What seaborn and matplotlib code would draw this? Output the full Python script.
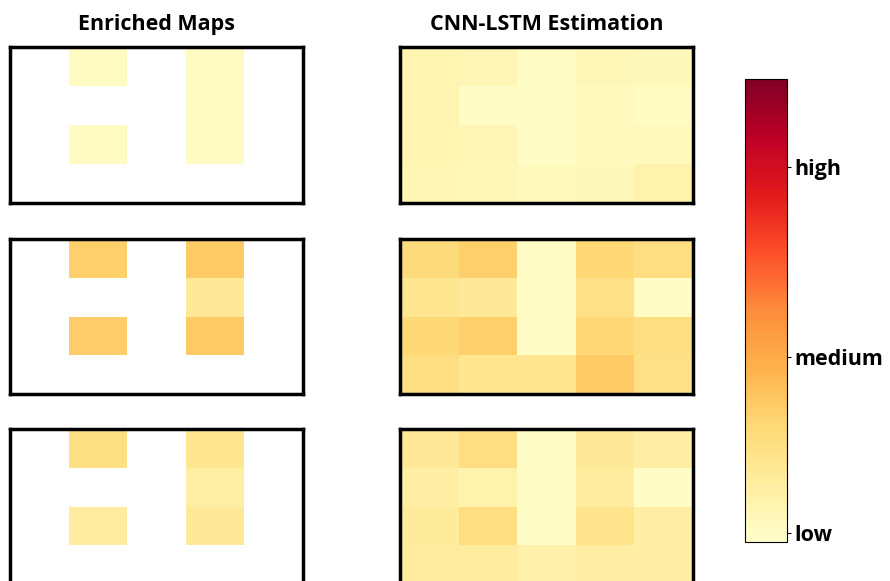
import numpy as np
import matplotlib
matplotlib.use("Agg")
import matplotlib.pyplot as plt
import seaborn as sns

nan = np.nan

# enriched maps (white = no data)
enriched_1 = [[nan, 0.03, nan, 0.03, nan],
              [nan, nan, nan, 0.03, nan],
              [nan, 0.03, nan, 0.03, nan],
              [nan, nan, nan, nan, nan]]
enriched_2 = [[nan, 0.28, nan, 0.30, nan],
              [nan, nan, nan, 0.15, nan],
              [nan, 0.29, nan, 0.30, nan],
              [nan, nan, nan, nan, nan]]
enriched_3 = [[nan, 0.21, nan, 0.17, nan],
              [nan, nan, nan, 0.11, nan],
              [nan, 0.13, nan, 0.15, nan],
              [nan, nan, nan, nan, nan]]

# CNN-LSTM estimation
cnn_1 = [[0.08, 0.07, 0.02, 0.06, 0.05],
         [0.08, 0.02, 0.02, 0.04, 0.03],
         [0.08, 0.07, 0.02, 0.04, 0.04],
         [0.07, 0.06, 0.04, 0.05, 0.09]]
cnn_2 = [[0.24, 0.28, 0.02, 0.25, 0.22],
         [0.17, 0.15, 0.02, 0.20, 0.02],
         [0.25, 0.28, 0.02, 0.25, 0.22],
         [0.22, 0.17, 0.17, 0.30, 0.20]]
cnn_3 = [[0.15, 0.22, 0.02, 0.15, 0.12],
         [0.12, 0.09, 0.02, 0.13, 0.02],
         [0.14, 0.22, 0.02, 0.18, 0.12],
         [0.13, 0.13, 0.10, 0.12, 0.12]]

titles = ["Enriched Maps", "CNN-LSTM Estimation"]
cbar_ticks = [0.02, 0.4, 0.81]
cbar_labels = ["low", "medium", "high"]

sns.set_style("white")
plt.rcParams['font.family'] = ['Open Sans', 'DejaVu Sans']
plt.rcParams['text.color'] = 'black'
plt.rcParams['ytick.color'] = 'black'

W, H = 890, 581
fig = plt.figure(figsize=(W / 100, H / 100), dpi=100)

def px_axes(x0, y0, x1, y1):
    return fig.add_axes([x0 / W, 1 - y1 / H, (x1 - x0) / W, (y1 - y0) / H])

rows_y = [(47, 203), (239, 394), (429, 584)]
cols_x = [(10, 303), (400, 693)]
cax = px_axes(745, 79, 787, 542)

grids = [[enriched_1, cnn_1], [enriched_2, cnn_2], [enriched_3, cnn_3]]

cbar = None
for r, (y0, y1) in enumerate(rows_y):
    for c, (x0, x1) in enumerate(cols_x):
        ax = px_axes(x0, y0, x1, y1)
        first = (r == 0 and c == 0)
        if first:
            sns.heatmap(np.array(grids[r][c]), ax=ax, cmap="YlOrRd", vmin=0, vmax=1,
                        cbar=True, cbar_ax=cax, xticklabels=False, yticklabels=False)
            cbar = ax.collections[0].colorbar
        else:
            sns.heatmap(np.array(grids[r][c]), ax=ax, cmap="YlOrRd", vmin=0, vmax=1,
                        cbar=False, xticklabels=False, yticklabels=False)
        for s in ax.spines.values():
            s.set_visible(True)
            s.set_color("black")
            s.set_linewidth(2.5)
        if r == 0:
            ax.set_title(titles[c], fontsize=15.5, fontweight="bold", color="black", pad=12)

cbar.set_ticks(cbar_ticks)
cbar.set_ticklabels(cbar_labels)
cbar.outline.set_visible(True)
cbar.outline.set_edgecolor("black")
cbar.outline.set_linewidth(0.8)
cax.tick_params(length=3, width=0.8, pad=2, labelsize=15.5, colors="black")
for t in cax.get_yticklabels():
    t.set_fontweight("bold")

fig.savefig("out.png", dpi=100)
